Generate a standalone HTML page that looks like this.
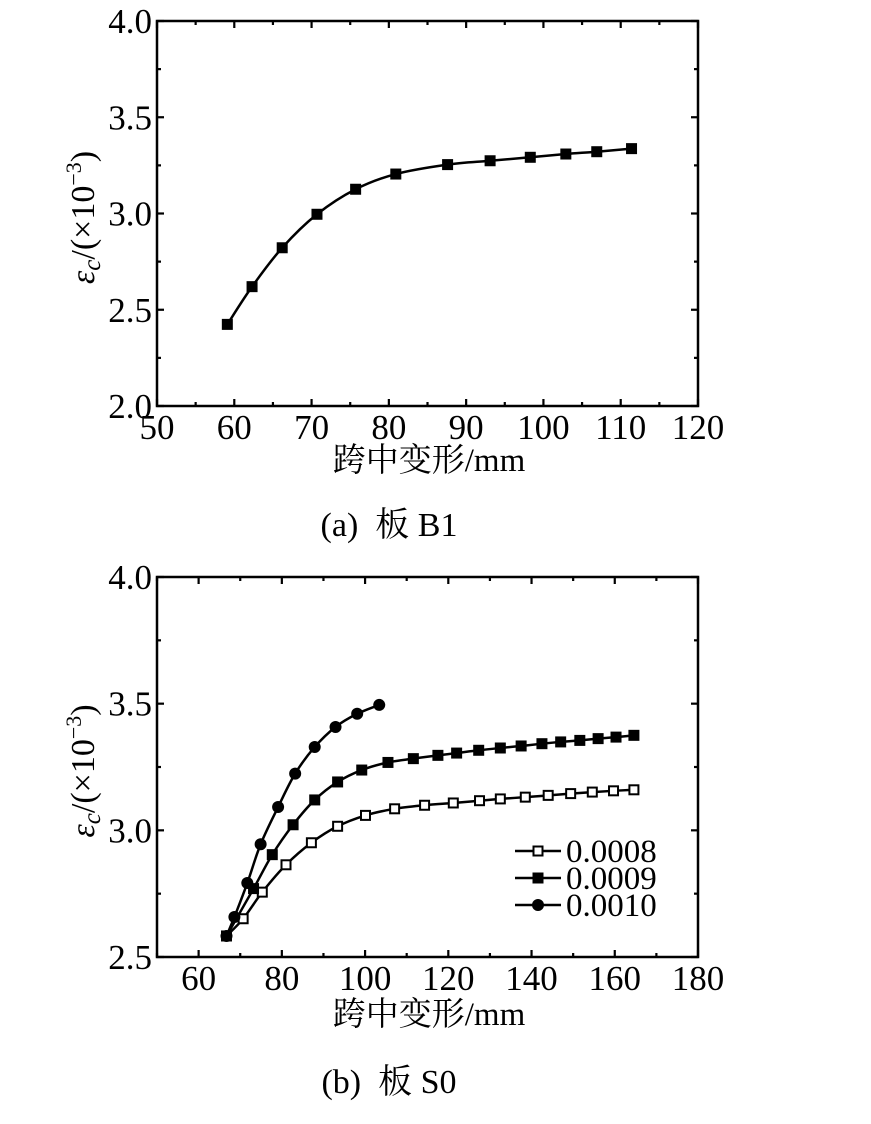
<!DOCTYPE html>
<html><head><meta charset="utf-8"><style>
html,body{margin:0;padding:0;background:#fff;}
svg text{font-family:"Liberation Serif","Noto Serif CJK SC","Noto Sans CJK SC",serif;fill:#000;}
</style></head>
<body>
<svg id="svg" width="871" height="1119" viewBox="0 0 871 1119" xmlns="http://www.w3.org/2000/svg"></svg>
<script>
// Chart (a) data
const aX = [59.1,62.3,66.2,70.7,75.7,80.9,87.6,93.1,98.3,102.9,106.9,111.4];
const aY = [2.424,2.62,2.822,2.996,3.126,3.205,3.254,3.274,3.292,3.309,3.321,3.337];
const aXTicks = [50,60,70,80,90,100,110,120];
const aYTicks = ["2.0","2.5","3.0","3.5","4.0"];
// Chart (b) data
const bLabels = ["0.0008","0.0009","0.0010"];
const b1X = [66.7,70.7,75.3,81.0,87.1,93.4,100.1,107.1,114.3,121.2,127.5,132.5,138.5,144.0,149.4,154.6,159.7,164.6];
const b1Y = [2.583,2.651,2.756,2.864,2.951,3.016,3.059,3.085,3.099,3.108,3.117,3.124,3.131,3.138,3.145,3.151,3.156,3.160];
const b2X = [66.7,73.2,77.7,82.7,87.9,93.4,99.2,105.5,111.6,117.5,122.0,127.3,132.5,137.5,142.5,147.0,151.6,156.0,160.3,164.6];
const b2Y = [2.583,2.770,2.904,3.022,3.120,3.191,3.238,3.268,3.283,3.296,3.305,3.316,3.325,3.333,3.342,3.349,3.355,3.362,3.368,3.375];
const b3X = [66.7,68.6,71.7,74.9,79.1,83.2,87.9,92.9,98.1,103.4];
const b3Y = [2.583,2.658,2.792,2.945,3.092,3.224,3.329,3.408,3.460,3.495];
const bXTicks = [60,80,100,120,140,160,180];
const bYTicks = ["2.5","3.0","3.5","4.0"];

const svg = document.getElementById('svg');
const NS = 'http://www.w3.org/2000/svg';
function mk(tag, attrs, parent){const e=document.createElementNS(NS,tag);for(const k in attrs)e.setAttribute(k,attrs[k]);(parent||svg).appendChild(e);return e;}
function smooth(pts){
  let d='M'+pts[0][0]+','+pts[0][1];
  for(let i=0;i<pts.length-1;i++){
    const p0=pts[Math.max(0,i-1)],p1=pts[i],p2=pts[i+1],p3=pts[Math.min(pts.length-1,i+2)];
    const c1=[p1[0]+(p2[0]-p0[0])/6,p1[1]+(p2[1]-p0[1])/6];
    const c2=[p2[0]-(p3[0]-p1[0])/6,p2[1]-(p3[1]-p1[1])/6];
    d+=' C'+c1[0]+','+c1[1]+' '+c2[0]+','+c2[1]+' '+p2[0]+','+p2[1];
  }
  return d;
}
function axes(cfg){
  const {L,R,T,B,x0,x1,y0,y1,xt,xminor,yt,yminor,name}=cfg;
  const sx=v=>L+(v-x0)/(x1-x0)*(R-L);
  const sy=v=>B-(v-y0)/(y1-y0)*(B-T);
  const g=mk('g',{});
  
  
  const fr=mk('rect',{x:L,y:T,width:R-L,height:B-T,fill:'none',stroke:'#000','stroke-width':2.5},g);
  
  
  for(let v=x0;v<=x1+1e-9;v+=xminor){
    const major=xt.some(t=>Math.abs(t-v)<1e-9);const len=major?7:4;
    mk('line',{x1:sx(v),x2:sx(v),y1:B,y2:B-len,stroke:'#000','stroke-width':2.2},g);
    mk('line',{x1:sx(v),x2:sx(v),y1:T,y2:T+len,stroke:'#000','stroke-width':2.2},g);
  }
  for(let v=y0;v<=y1+1e-9;v+=yminor){
    const major=yt.some(t=>Math.abs(parseFloat(t)-v)<1e-9);const len=major?7:4;
    mk('line',{x1:L,x2:L+len,y1:sy(v),y2:sy(v),stroke:'#000','stroke-width':2.2},g);
    mk('line',{x1:R,x2:R-len,y1:sy(v),y2:sy(v),stroke:'#000','stroke-width':2.2},g);
  }
  xt.forEach(t=>{const e=mk('text',{x:sx(t),y:B+33,'text-anchor':'middle','font-size':35},g);e.textContent=t;
    });
  yt.forEach(t=>{const e=mk('text',{x:L-5,y:sy(parseFloat(t))+12,'text-anchor':'end','font-size':35},g);e.textContent=t;
    });
  return {sx,sy};
}
function series(sc,X,Y,marker,name){
  const pts=X.map((x,i)=>[sc.sx(x),sc.sy(Y[i])]);
  const p=mk('path',{d:smooth(pts),fill:'none',stroke:'#000','stroke-width':2.5});
  
  
  pts.forEach(q=>drawMarker(q[0],q[1],marker,name));
}
function drawMarker(x,y,marker,name){
  let m;
  if(marker==='circle') m=mk('circle',{cx:x,cy:y,r:6,fill:'#000'});
  else if(marker==='open') m=mk('rect',{x:x-4.5,y:y-4.5,width:9,height:9,fill:'#fff',stroke:'#000','stroke-width':2});
  else m=mk('rect',{x:x-5.5,y:y-5.5,width:11,height:11,fill:'#000'});
  
  
}
function titles(L,R,T,B,titleY,cap,capY,name){
  const xt=mk('text',{x:429,y:titleY,'text-anchor':'middle','font-size':33});
  xt.textContent='跨中变形/mm';
  
  const cy=(T+B)/2+4;
  const yt=mk('text',{x:0,y:0,'text-anchor':'middle','font-size':34,transform:'translate(94,'+cy+') rotate(-90)'});
  yt.innerHTML='<tspan font-style="italic">ε</tspan><tspan font-style="italic" font-size="25" dy="6">c</tspan><tspan dy="-6">/(×10</tspan><tspan font-size="22" dy="-13">−3</tspan><tspan dy="13">)</tspan>';
  
  const c=mk('text',{x:389,y:capY,'text-anchor':'middle','font-size':34});
  c.setAttribute('xml:space','preserve');
  c.style.whiteSpace='pre';
  c.textContent=cap;
  
}
// chart a
const A=axes({L:157,R:698,T:21,B:406,x0:50,x1:120,y0:2,y1:4,xt:aXTicks,xminor:5,yt:aYTicks,yminor:0.25,name:'chart-a'});
series(A,aX,aY,'filled','chart-a-series');
titles(157,698,21,406,471,'(a)  板 B1',536,'chart-a');
// chart b
const Bc=axes({L:157,R:698,T:577,B:957,x0:50,x1:180,y0:2.5,y1:4,xt:bXTicks,xminor:10,yt:bYTicks,yminor:0.25,name:'chart-b'});
series(Bc,b1X,b1Y,'open','chart-b-series-0008');
series(Bc,b2X,b2Y,'filled','chart-b-series-0009');
series(Bc,b3X,b3Y,'circle','chart-b-series-0010');
titles(157,698,577,957,1025,'(b)  板 S0',1093,'chart-b');
// legend
const markers=['open','filled','circle'];
bLabels.forEach((lab,i)=>{
  const y=851+i*27;
  const l=mk('line',{x1:515,x2:561,y1:y,y2:y,stroke:'#000','stroke-width':2.5});
  
  
  drawMarker(538,y,markers[i],'legend');
  const t=mk('text',{x:566,y:y+11,'font-size':33});
  t.textContent=lab;
  
  
});
</script>
</body></html>
